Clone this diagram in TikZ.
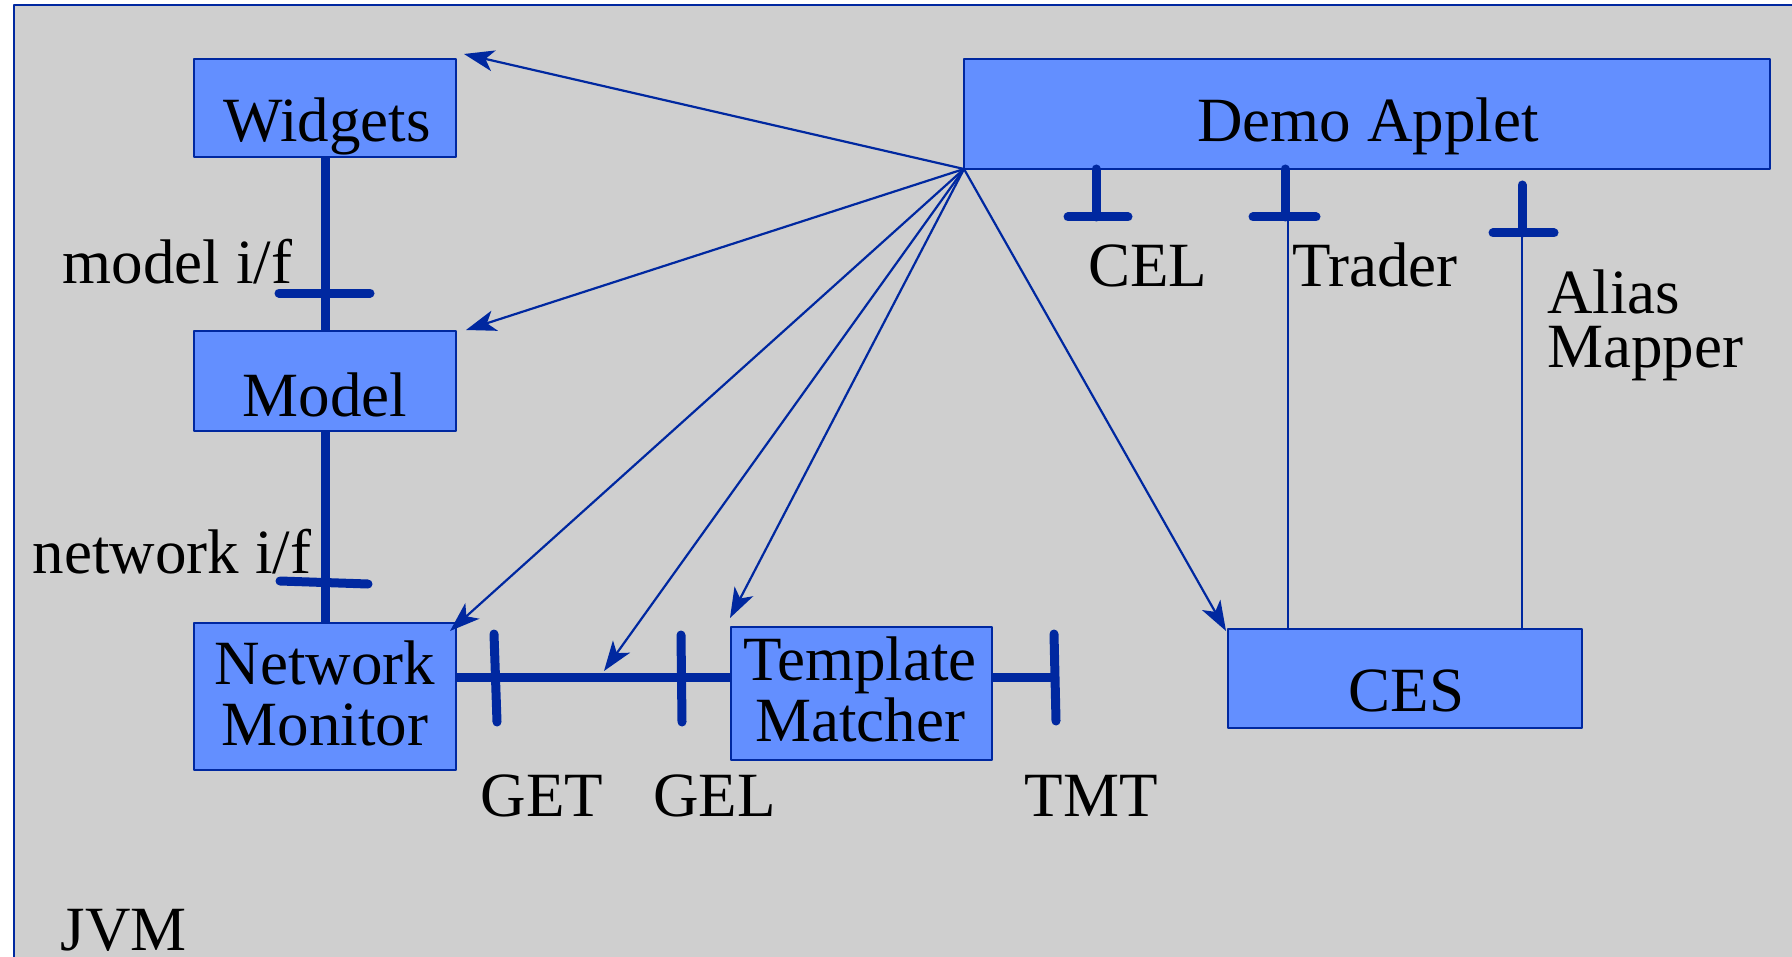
\documentclass[tikz,border=0pt]{standalone}
\usepackage{fontspec}
\setmainfont{Liberation Serif}
\usetikzlibrary{arrows.meta}
\definecolor{jvmgray}{RGB}{207,207,207}
\definecolor{linkblue}{RGB}{0,40,160}
\definecolor{boxblue}{RGB}{99,143,255}
\begin{document}
\begin{tikzpicture}[x=0.5pt,y=-0.5pt,line cap=round,line join=round]
  \tikzset{
    comp/.style={draw=linkblue,line width=1pt,fill=boxblue,inner sep=0pt,outer sep=0pt},
    txt/.style={inner sep=0pt,anchor=base,align=center,font=\fontsize{31.5}{30.5}\selectfont},
    iface/.style={draw=linkblue,line width=4.5pt},
    bus/.style={iface,line cap=butt},
    wire/.style={draw=linkblue,line width=1.1pt},
    call/.style={wire,-{Stealth[length=15pt,width=10.5pt,inset=4pt]}}
  }
  \clip (0,0) rectangle (1792,957);
  % the JVM runs off the right and bottom edges
  \draw[linkblue,line width=1pt,fill=jvmgray] (14,5) rectangle (1812,980);

  % components
  \node[comp,minimum width=131pt,minimum height=49pt] (widgets) at (325,108) {};
  \node[comp,minimum width=131pt,minimum height=50pt] (model) at (325,381) {};
  \node[comp,minimum width=131pt,minimum height=73.5pt] (netmon) at (325,696.5) {};
  \node[comp,minimum width=130.5pt,minimum height=66.5pt] (tmatch) at (861.5,693.5) {};
  \node[comp,minimum width=403pt,minimum height=55pt] (applet) at (1367,114) {};
  \node[comp,minimum width=177pt,minimum height=49.5pt] (ces) at (1405,678.5) {};

  % base of a two-line text is its last line
  \node[txt] (widgets-t) at (327,141.7) {Widgets};
  \node[txt] (model-t) at (325,416) {Model};
  \node[txt] (netmon-t) at (325,745) {Network\\Monitor};
  \node[txt] (tmatch-t) at (860,741.7) {Template\\Matcher};
  \node[txt] (applet-t) at (1368,141.7) {Demo Applet};
  \node[txt] (ces-t) at (1406.5,711.7) {CES};

  % interfaces
  \draw[bus] (widgets.south) -- (model.north);
  \draw[bus] (model.south) -- (netmon.north);
  \draw[iface] (279,293) -- (370,293);
  \draw[iface] (280,581) -- (368,584);

  \coordinate (tmt) at (1055,677);
  \draw[bus] (netmon.east |- tmt) -- (tmatch.west |- tmt);
  \draw[bus] (tmatch.east |- tmt) -- (tmt);
  \draw[iface] (494,634) -- (497,722);
  \draw[iface] (681,635) -- (682,722);
  \draw[iface] (1054,634) -- (1056,721);

  \coordinate (trader) at (1288,217);
  \coordinate (alias) at (1522,233);
  \draw[iface] (1096,169) -- (1096,217);
  \draw[iface] (1068,217) -- (1128,217);
  \draw[iface] (1285,169) -- (1285,217);
  \draw[iface] (1253,217) -- (1316,217);
  \draw[iface] (1522,185) -- (1522,233);
  \draw[iface] (1493,233) -- (1554,233);
  \draw[wire] (trader) -- (trader |- ces.north);
  \draw[wire] (alias) -- (alias |- ces.north);

  \node[txt] (model-if) at (177.5,283) {model i/f};
  \node[txt] (net-if) at (172,573) {network i/f};
  \node[txt] (get) at (542,816) {GET};
  \node[txt] (gel) at (714.5,816) {GEL};
  \node[txt] (tmt-l) at (1091,816) {TMT};
  \node[txt] (cel) at (1147.5,286) {CEL};
  \node[txt] (trader-l) at (1375,286) {Trader};
  \node[txt,anchor=base west,align=left] (alias-l) at (1547,367) {Alias\\[-3.5pt]Mapper};
  \node[txt] (jvm) at (124,950) {JVM};

  % calls out of the applet
  \coordinate (wtip) at ([shift={(8,-5)}]widgets.north east);
  \coordinate (mtip) at ([shift={(10,-1)}]model.north east);
  \coordinate (ntip) at ([shift={(-6,8)}]netmon.north east);
  \coordinate (btip) at (604,671);
  \coordinate (ttip) at ([shift={(-1,-9)}]tmatch.north west);
  \coordinate (ctip) at ([shift={(-2,2)}]ces.north west);
  \foreach \t in {wtip,mtip,ntip,btip,ttip,ctip}
    \draw[call] (applet.south west) -- (\t);
\end{tikzpicture}
\end{document}
